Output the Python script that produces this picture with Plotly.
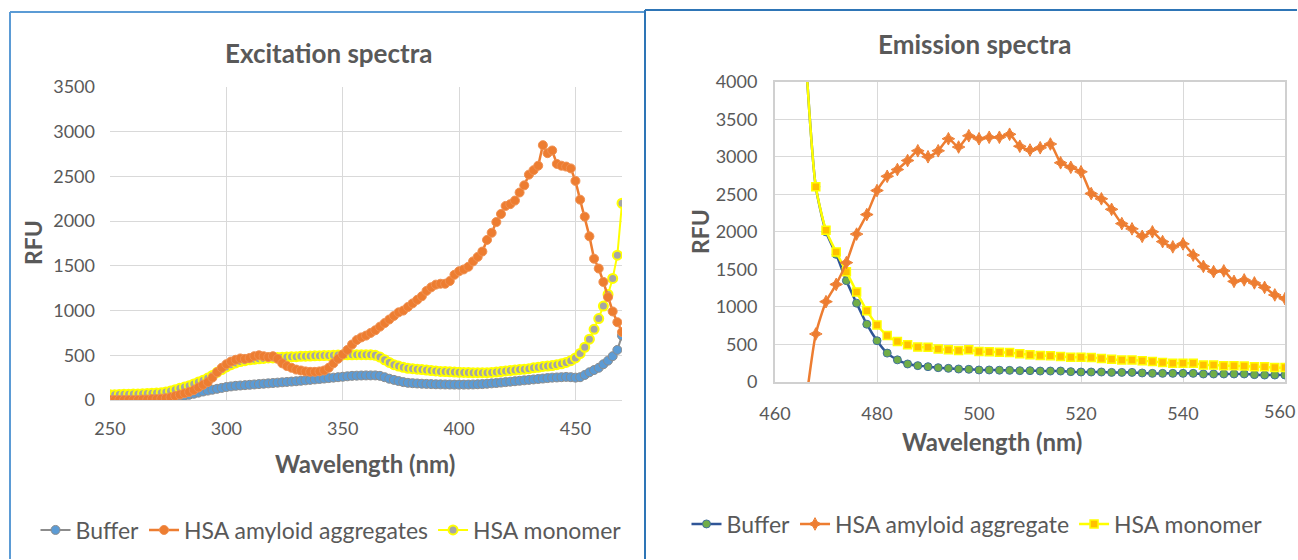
import plotly.graph_objects as go

W, H = 1298, 560

# ---------------- Excitation spectra data (2 nm steps, 250-470 nm) ----------------
ex_wl = list(range(250, 471, 2))
ex_buffer = [
    10, 10, 10, 12, 12, 12, 14, 14, 15, 16,
    18, 20, 22, 26, 30, 38, 48, 58, 70, 82,
    95, 105, 115, 125, 135, 145, 152, 158, 162, 166,
    170, 174, 178, 182, 186, 190, 194, 198, 202, 206,
    210, 215, 220, 225, 230, 235, 240, 245, 250, 255,
    260, 265, 270, 272, 274, 275, 275, 275, 270, 255,
    238, 225, 212, 200, 192, 188, 185, 182, 180, 178,
    176, 175, 174, 173, 172, 172, 172, 173, 174, 176,
    178, 182, 186, 190, 195, 200, 205, 210, 215, 220,
    225, 230, 235, 240, 245, 250, 252, 255, 258, 255,
    250, 255, 280, 310, 335, 360, 400, 440, 490, 560, 720,
]
ex_aggregates = [
    0, 0, 0, 0, 0, 0, 0, 5, 5, 10,
    10, 15, 20, 30, 45, 60, 75, 90, 110, 140,
    170, 200, 250, 310, 360, 400, 430, 450, 465, 460,
    470, 490, 500, 490, 480, 490, 460, 410, 380, 360,
    340, 330, 320, 315, 315, 320, 330, 360, 410, 460,
    510, 560, 620, 670, 700, 720, 750, 780, 820, 860,
    900, 940, 980, 1000, 1040, 1080, 1120, 1160, 1220, 1260,
    1290, 1300, 1300, 1330, 1400, 1440, 1460, 1490, 1550, 1600,
    1660, 1790, 1870, 1990, 2080, 2170, 2190, 2230, 2320, 2400,
    2520, 2570, 2620, 2850, 2760, 2790, 2640, 2620, 2610, 2590,
    2450, 2240, 2050, 1830, 1580, 1470, 1320, 1150, 990, 870, 760,
]
ex_monomer = [
    60, 60, 62, 64, 65, 66, 68, 70, 72, 75,
    78, 82, 90, 100, 115, 130, 145, 160, 180, 200,
    220, 245, 275, 310, 340, 370, 395, 415, 430, 440,
    450, 455, 460, 465, 470, 470, 475, 478, 480, 483,
    485, 488, 490, 492, 494, 495, 497, 498, 500, 502,
    504, 505, 506, 507, 507, 507, 505, 500, 480, 450,
    420, 395, 380, 365, 355, 350, 345, 340, 335, 330,
    325, 320, 318, 315, 312, 310, 308, 307, 306, 305,
    305, 306, 308, 312, 318, 325, 330, 335, 340, 345,
    350, 360, 365, 375, 380, 385, 395, 405, 420, 440,
    470, 520, 590, 680, 790, 910, 1050, 1180, 1360, 1620, 2200,
]

# ---------------- Emission spectra data (2 nm steps, 464-560 nm) ----------------
em_wl = list(range(464, 561, 2))
em_buffer = [
    9000, 4400, 2600, 2000, 1700, 1350, 1050, 770, 550, 385,
    295, 240, 218, 204, 191, 182, 173, 169, 160,
    160, 157, 155, 151, 151, 146, 146, 146, 138, 133,
    133, 133, 128, 128, 128, 120, 115, 115, 115, 115,
    115, 107, 107, 107, 107, 107, 98, 93, 93, 93,
]
em_aggregate = [
    None, -300, 640, 1070, 1300, 1590, 1970, 2230, 2550, 2740,
    2830, 2950, 3080, 3000, 3080, 3240, 3130, 3280, 3240,
    3260, 3260, 3300, 3140, 3090, 3120, 3170, 2920, 2860, 2800,
    2510, 2440, 2300, 2110, 2040, 1940, 2000, 1870, 1800, 1840,
    1690, 1540, 1470, 1480, 1340, 1360, 1320, 1260, 1160, 1110,
]
em_monomer = [
    9000, 4400, 2600, 2020, 1730, 1470, 1200, 950, 760, 620,
    540, 495, 465, 462, 440, 430, 420, 428, 405,
    404, 395, 392, 375, 362, 352, 350, 338, 330, 330,
    328, 312, 302, 293, 293, 284, 272, 260, 250, 249,
    249, 228, 228, 218, 218, 213, 204, 204, 192, 192,
]

# x tick labels of the emission axis (the last one is placed against the edge)
em_ticks = [460, 480, 500, 520, 540]
em_last_tick = "560"

ex_title = "Excitation spectra"
em_title = "Emission spectra"
x_title = "Wavelength (nm)"
y_title = "RFU"

FONT = "Lato"
TXT = "#595959"
GRID = "#D9D9D9"

fig = go.Figure()

# ---- Excitation traces ----
fig.add_trace(go.Scatter(
    x=ex_wl, y=ex_buffer, name="Buffer", mode="lines+markers",
    line=dict(color="#8C8C8C", width=2),
    marker=dict(symbol="circle", size=9, color="#5B9BD5", line=dict(color="#8C8C8C", width=1)),
    xaxis="x", yaxis="y", legend="legend", legendrank=1,
))
fig.add_trace(go.Scatter(
    x=ex_wl, y=ex_monomer, name="HSA monomer", mode="lines+markers",
    line=dict(color="#FFFF00", width=2),
    marker=dict(symbol="circle", size=9, color="#A5A5A5", line=dict(color="#FFFF00", width=2)),
    xaxis="x", yaxis="y", legend="legend", legendrank=3,
))
fig.add_trace(go.Scatter(
    x=ex_wl, y=ex_aggregates, name="HSA amyloid aggregates", mode="lines+markers",
    line=dict(color="#ED7D31", width=2.5),
    marker=dict(symbol="circle", size=9, color="#ED7D31", line=dict(color="#F09050", width=1)),
    xaxis="x", yaxis="y", legend="legend", legendrank=2,
))

# ---- Emission traces ----
fig.add_trace(go.Scatter(
    x=em_wl, y=em_buffer, name="Buffer", mode="lines+markers",
    line=dict(color="#2F5597", width=2.5, shape="spline", smoothing=0.6),
    marker=dict(symbol="circle", size=8, color="#70AD47", line=dict(color="#41719C", width=1)),
    xaxis="x2", yaxis="y2", legend="legend2", legendrank=1,
))
fig.add_trace(go.Scatter(
    x=em_wl, y=em_monomer, name="HSA monomer", mode="lines+markers",
    line=dict(color="#FFFF00", width=2.5, shape="spline", smoothing=0.6),
    marker=dict(symbol="square", size=8, color="#FFC000", line=dict(color="#FFFF00", width=1.5)),
    xaxis="x2", yaxis="y2", legend="legend2", legendrank=3,
))
fig.add_trace(go.Scatter(
    x=em_wl, y=em_aggregate, name="HSA amyloid aggregate", mode="lines+markers",
    line=dict(color="#ED7D31", width=2.5, shape="spline", smoothing=0.6),
    marker=dict(symbol="star-diamond", size=9, color="#ED7D31", line=dict(color="#ED7D31", width=1)),
    xaxis="x2", yaxis="y2", legend="legend2", legendrank=2,
))

tickfont = dict(family=FONT, size=18, color=TXT)

fig.update_layout(
    width=W, height=H,
    margin=dict(l=0, r=0, t=0, b=0, autoexpand=False),
    paper_bgcolor="white", plot_bgcolor="white",
    xaxis=dict(
        domain=[110 / W, 622 / W], range=[250, 470], tick0=250, dtick=50,
        showgrid=True, gridcolor=GRID, gridwidth=1, zeroline=False,
        showline=True, linecolor=GRID, linewidth=1, ticks="",
        tickfont=tickfont, ticklabelstandoff=12, automargin=False,
    ),
    yaxis=dict(
        domain=[1 - 400 / H, 1 - 87 / H], range=[0, 3500], dtick=500,
        showgrid=True, gridcolor=GRID, gridwidth=1, zeroline=False,
        showline=False, ticks="", tickfont=tickfont, ticklabelstandoff=14,
        automargin=False,
    ),
    xaxis2=dict(
        domain=[775 / W, 1285 / W], range=[460, 560], tick0=460, dtick=20,
        showgrid=True, gridcolor=GRID, gridwidth=1, zeroline=False,
        showline=True, mirror=True, linecolor="#D0D0D0", linewidth=2, ticks="",
        tickfont=tickfont, ticklabelstandoff=14, anchor="y2",
        ticklabeloverflow="hide past div", automargin=False,
    ),
    yaxis2=dict(
        domain=[1 - 382 / H, 1 - 81.7 / H], range=[0, 4000], dtick=500,
        showgrid=True, gridcolor=GRID, gridwidth=1, zeroline=False,
        showline=True, mirror=True, linecolor="#D0D0D0", linewidth=2, ticks="",
        tickfont=tickfont, ticklabelstandoff=12, anchor="x2", automargin=False,
    ),
    legend=dict(
        orientation="h", x=331 / W, xanchor="center", y=1 - 530 / H, yanchor="middle",
        font=dict(family=FONT, size=23, color=TXT), bgcolor="rgba(0,0,0,0)",
    ),
    legend2=dict(
        orientation="h", x=977 / W, xanchor="center", y=1 - 524 / H, yanchor="middle",
        font=dict(family=FONT, size=23, color=TXT), bgcolor="rgba(0,0,0,0)",
    ),
)

def ann(text, px, py, size, bold=True, angle=0, xanchor="center"):
    fig.add_annotation(
        text=text, x=px / W, y=1 - py / H, xref="paper", yref="paper",
        showarrow=False, textangle=angle, xanchor=xanchor, yanchor="middle",
        font=dict(family=FONT, size=size, color=TXT, weight="bold" if bold else "normal"),
    )

ann(ex_title, 328, 53, 26)
ann(em_title, 974, 44, 26)
ann(y_title, 33, 243, 23, angle=-90)
ann(y_title, 700, 232, 23, angle=-90)
ann(x_title, 365, 463, 24)
ann(x_title, 992, 441, 24)
# right-most emission tick label, kept inside the canvas
ann(em_last_tick, 1297, 411, 18, bold=False, xanchor="right")

def seg(x0, y0, x1, y1, color):
    fig.add_shape(type="line", xref="paper", yref="paper",
                  x0=x0 / W, y0=1 - y0 / H, x1=x1 / W, y1=1 - y1 / H,
                  line=dict(color=color, width=2))

seg(10, 12, 645, 12, "#5B9BD5")
seg(10, 12, 10, 559, "#5B9BD5")
seg(645, 10, 1297, 10, "#2E75B6")
seg(645, 10, 645, 559, "#2E75B6")

post = (
    "document.documentElement.style.margin='0';"
    "document.documentElement.style.overflow='hidden';"
    "document.body.style.margin='0';"
    "document.body.style.overflow='hidden';"
    "var d=document.getElementById('{plot_id}');"
    "d.style.position='fixed';d.style.left='0px';d.style.top='0px';"
)

fig.write_html("out.html", config={"displayModeBar": False}, post_script=post)
